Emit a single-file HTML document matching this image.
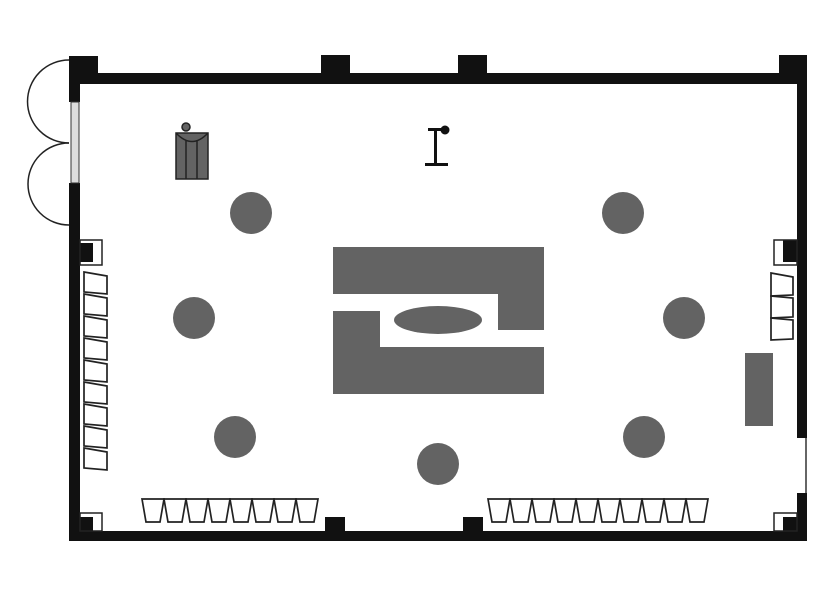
<!DOCTYPE html>
<html><head><meta charset="utf-8"><style>html,body{margin:0;padding:0;background:#fff}svg{display:block}</style></head>
<body>
<svg width="840" height="600" viewBox="0 0 840 600" xmlns="http://www.w3.org/2000/svg">
<rect width="840" height="600" fill="#fff"/>
<g fill="#111">
<rect x="69" y="73" width="738" height="11"/>
<rect x="69" y="56" width="29" height="28"/>
<rect x="321" y="55" width="29" height="29"/>
<rect x="458" y="55" width="29" height="29"/>
<rect x="779" y="55" width="28" height="29"/>
<rect x="69" y="56" width="11" height="46"/>
<rect x="69" y="183" width="11" height="357"/>
<rect x="80" y="243" width="13" height="19"/>
<rect x="69" y="531" width="738" height="10"/>
<rect x="80" y="517" width="13" height="14"/>
<rect x="325" y="517" width="20" height="14"/>
<rect x="463" y="517" width="20" height="14"/>
<rect x="783" y="517" width="24" height="14"/>
<rect x="797" y="73" width="10" height="365"/>
<rect x="797" y="493" width="10" height="48"/>
<rect x="783" y="240" width="14" height="22"/>
</g>
<rect x="71" y="102" width="8" height="81" fill="#ddd" stroke="#333" stroke-width="1"/>
<line x1="806" y1="438" x2="806" y2="493" stroke="#333" stroke-width="1.5"/>
<g fill="none" stroke="#222" stroke-width="1.5">
<path d="M69 60 A41 41 0 0 0 69 143"/>
<path d="M69 143 A41 41 0 0 0 69 225"/>
<rect x="80" y="240" width="22" height="25"/>
<rect x="80" y="513" width="22" height="18"/>
<rect x="774" y="240" width="23" height="25"/>
<rect x="774" y="513" width="23" height="18"/>
</g>
<g fill="#fff" stroke="#222" stroke-width="1.7">
<polygon points="84,272 107,276 107,294 84,292"/>
<polygon points="84,294 107,298 107,316 84,314"/>
<polygon points="84,316 107,320 107,338 84,336"/>
<polygon points="84,338 107,342 107,360 84,358"/>
<polygon points="84,360 107,364 107,382 84,380"/>
<polygon points="84,382 107,386 107,404 84,402"/>
<polygon points="84,404 107,408 107,426 84,424"/>
<polygon points="84,426 107,430 107,448 84,446"/>
<polygon points="84,448 107,452 107,470 84,468"/>
<polygon points="771,273 793,277 793,295 771,296"/>
<polygon points="771,296 793,298 793,317 771,318"/>
<polygon points="771,318 793,320 793,339 771,340"/>
</g>
<g fill="#fff" stroke="#222" stroke-width="1.7">
<polygon points="142,499 164,499 160,522 146,522"/>
<polygon points="164,499 186,499 182,522 168,522"/>
<polygon points="186,499 208,499 204,522 190,522"/>
<polygon points="208,499 230,499 226,522 212,522"/>
<polygon points="230,499 252,499 248,522 234,522"/>
<polygon points="252,499 274,499 270,522 256,522"/>
<polygon points="274,499 296,499 292,522 278,522"/>
<polygon points="296,499 318,499 314,522 300,522"/>
<polygon points="488,499 510,499 506,522 492,522"/>
<polygon points="510,499 532,499 528,522 514,522"/>
<polygon points="532,499 554,499 550,522 536,522"/>
<polygon points="554,499 576,499 572,522 558,522"/>
<polygon points="576,499 598,499 594,522 580,522"/>
<polygon points="598,499 620,499 616,522 602,522"/>
<polygon points="620,499 642,499 638,522 624,522"/>
<polygon points="642,499 664,499 660,522 646,522"/>
<polygon points="664,499 686,499 682,522 668,522"/>
<polygon points="686,499 708,499 704,522 690,522"/>
</g>
<g fill="#636363">
<circle cx="251" cy="213" r="21"/>
<circle cx="623" cy="213" r="21"/>
<circle cx="194" cy="318" r="21"/>
<circle cx="684" cy="318" r="21"/>
<circle cx="235" cy="437" r="21"/>
<circle cx="438" cy="464" r="21"/>
<circle cx="644" cy="437" r="21"/>
<rect x="333" y="247" width="211" height="47"/>
<rect x="498" y="294" width="46" height="36"/>
<rect x="333" y="311" width="47" height="83"/>
<rect x="380" y="347" width="164" height="47"/>
<ellipse cx="438" cy="320" rx="44" ry="14"/>
<rect x="745" y="353" width="28" height="73"/>
</g>
<g stroke="#222" stroke-width="1.5">
<rect x="176" y="133" width="32" height="46" fill="#636363"/>
<circle cx="186" cy="127" r="4" fill="#636363"/>
<path d="M176 133 Q192 150 208 133" fill="none"/>
<line x1="186" y1="140" x2="186" y2="179"/>
<line x1="197" y1="140" x2="197" y2="179"/>
</g>
<g stroke="#111" fill="#111">
<rect x="434" y="129" width="3" height="35" stroke="none"/>
<rect x="428" y="128" width="14" height="3" stroke="none"/>
<circle cx="445" cy="130" r="4"/>
<rect x="425" y="163" width="23" height="3" stroke="none"/>
</g>
</svg>
</body></html>
